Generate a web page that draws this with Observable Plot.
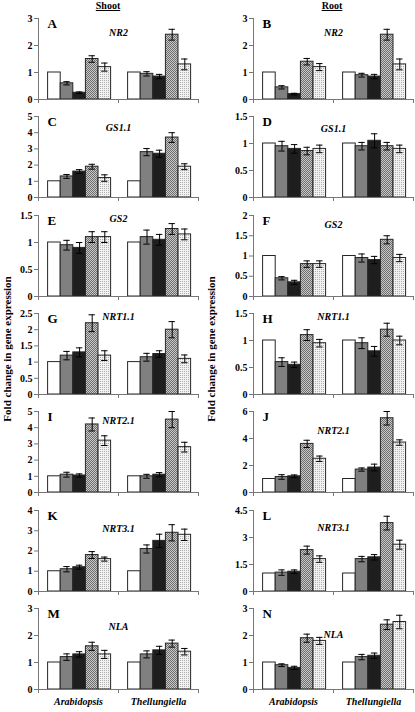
<!DOCTYPE html>
<html><head><meta charset="utf-8">
<script src="https://cdn.jsdelivr.net/npm/d3@7"></script>
<script src="https://cdn.jsdelivr.net/npm/@observablehq/plot@0.6"></script>
<style>
html,body{margin:0;padding:0;background:#fff}
body{width:415px;height:712px;position:relative;overflow:hidden;font-family:"Liberation Serif","Times New Roman",serif}
.panel{position:absolute}
.coltitle{position:absolute;top:0;font-weight:bold;font-size:10px;text-decoration:underline;transform:translateX(-50%);line-height:12px}
.ylab{position:absolute;font-weight:bold;font-size:11px;white-space:nowrap;transform:translate(-50%,-50%) rotate(-90deg)}
</style></head>
<body>
<svg width="0" height="0" style="position:absolute">
  <defs>
    <pattern id="hatch" patternUnits="userSpaceOnUse" width="2" height="2">
      <rect width="2" height="2" fill="#c8c8c8"/>
      <rect x="0" y="0" width="1" height="1" fill="#6e6e6e"/>
      <rect x="1" y="1" width="1" height="1" fill="#6e6e6e"/>
    </pattern>
    <pattern id="dots" patternUnits="userSpaceOnUse" width="2" height="2">
      <rect width="2" height="2" fill="#f2f2f2"/>
      <rect x="0" y="0" width="1" height="1" fill="#b0b0b0"/>
    </pattern>
  </defs>
</svg>
<script>
// ---- data ----
const columnTitles = ["Shoot", "Root"];
const yLabel = "Fold change in gene expression";
const groups = ["Arabidopsis", "Thellungiella"];
const treatments = ["t1", "t2", "t3", "t4", "t5"];
const panelLetters = ["A","B","C","D","E","F","G","H","I","J","K","L","M","N"];
const genes = ["NR2","NR2","GS1.1","GS1.1","GS2","GS2","NRT1.1","NRT1.1","NRT2.1","NRT2.1","NRT3.1","NRT3.1","NLA","NLA"];
const yTicks = [
  [0,1,2,3],[0,1,2,3],
  [0,1,2,3,4,5],[0,0.5,1,1.5],
  [0,0.5,1,1.5],[0,0.5,1,1.5,2],
  [0,0.5,1,1.5,2,2.5],[0,0.5,1,1.5],
  [0,1,2,3,4,5],[0,2,4,6],
  [0,1,2,3,4],[0,1.5,3,4.5],
  [0,1,2,3],[0,1,2,3]
];
const meansArabidopsis = [
  [1,0.6,0.25,1.5,1.2],[1,0.45,0.2,1.4,1.2],
  [1,1.3,1.6,1.9,1.2],[1,0.95,0.9,0.86,0.9],
  [1,0.95,0.9,1.1,1.1],[1,0.45,0.35,0.8,0.8],
  [1,1.2,1.3,2.2,1.2],[1,0.6,0.55,1.1,0.95],
  [1,1.1,1.05,4.2,3.2],[1,1.15,1.2,3.6,2.5],
  [1,1.1,1.2,1.8,1.6],[1,1.05,1.1,2.3,1.8],
  [1,1.2,1.3,1.6,1.3],[1,0.9,0.8,1.9,1.8]
];
const errArabidopsis = [
  [0,0.06,0.03,0.12,0.15],[0,0.06,0.03,0.12,0.13],
  [0,0.12,0.12,0.15,0.2],[0,0.09,0.08,0.07,0.07],
  [0,0.09,0.1,0.1,0.1],[0,0.04,0.05,0.08,0.08],
  [0,0.13,0.14,0.26,0.15],[0,0.08,0.05,0.1,0.07],
  [0,0.15,0.1,0.4,0.3],[0,0.17,0.1,0.27,0.2],
  [0,0.13,0.1,0.17,0.1],[0,0.15,0.1,0.22,0.18],
  [0,0.12,0.1,0.15,0.15],[0,0.05,0.06,0.15,0.13]
];
const meansThellungiella = [
  [1,0.95,0.85,2.4,1.3],[1,0.9,0.85,2.4,1.3],
  [1,2.8,2.7,3.7,1.9],[1,0.95,1.05,0.95,0.9],
  [1,1.1,1.05,1.25,1.15],[1,0.95,0.9,1.4,0.95],
  [1,1.15,1.25,2.0,1.1],[1,0.95,0.8,1.2,1.0],
  [1,1.0,1.1,4.5,2.8],[1,1.7,1.85,5.5,3.7],
  [1,2.1,2.5,2.9,2.8],[1,1.8,1.9,3.8,2.6],
  [1,1.3,1.45,1.7,1.4],[1,1.2,1.25,2.4,2.5]
];
const errThellungiella = [
  [0,0.08,0.08,0.2,0.2],[0,0.07,0.08,0.2,0.2],
  [0,0.22,0.22,0.3,0.18],[0,0.07,0.13,0.07,0.07],
  [0,0.13,0.1,0.1,0.1],[0,0.1,0.09,0.1,0.09],
  [0,0.12,0.1,0.25,0.12],[0,0.1,0.09,0.12,0.08],
  [0,0.12,0.13,0.5,0.3],[0,0.12,0.25,0.5,0.2],
  [0,0.2,0.33,0.4,0.28],[0,0.15,0.15,0.38,0.25],
  [0,0.13,0.15,0.13,0.12],[0,0.1,0.1,0.18,0.25]
];
const geneLabelOffset = [14,14,11,12,3,9,3,3,9,19,18,17,18,26];

// ---- styles / layout ----
const fills = ["#ffffff", "#808080", "#1e1e1e", "url(#hatch)", "url(#dots)"];
const serif = "'Liberation Serif','Times New Roman',serif";
const barPadLeft = 0.12, barWidth = 0.1575, capHalf = 0.04;
const colLeft = [0, 215];
const colWidth = [207, 200];
const rowTop0 = 8, rowPitch = 98.3;

const body = document.body;
columnTitles.forEach((t, c) => {
  const d = document.createElement("div");
  d.className = "coltitle";
  d.textContent = t;
  d.style.left = (c === 0 ? 108 : 332) + "px";
  body.appendChild(d);
  const y = document.createElement("div");
  y.className = "ylab";
  y.textContent = yLabel;
  y.style.left = (c === 0 ? 7 : 211) + "px";
  y.style.top = "349px";
  body.appendChild(y);
});

panelLetters.forEach((letter, p) => {
  const col = p % 2, row = Math.floor(p / 2);
  const ticks = yTicks[p];
  const yMax = ticks[ticks.length - 1];
  const rows = [];
  groups.forEach((g, gi) => {
    const means = gi === 0 ? meansArabidopsis[p] : meansThellungiella[p];
    const errs = gi === 0 ? errArabidopsis[p] : errThellungiella[p];
    treatments.forEach((t, ti) => {
      const x1 = gi + barPadLeft + ti * barWidth;
      rows.push({group: g, treatment: t, mean: means[ti], err: errs[ti],
                 x1, x2: x1 + barWidth, xc: x1 + barWidth / 2});
    });
  });
  const withErr = rows.filter(d => d.err > 0);
  const last = row === 6;
  const marks = [
    Plot.rectY(rows, {x1: "x1", x2: "x2", y: "mean", fill: "treatment", stroke: "#262626", strokeWidth: 1}),
    Plot.ruleX(withErr, {x: "xc", y1: d => d.mean - d.err, y2: d => d.mean + d.err, stroke: "#000", strokeWidth: 1}),
    Plot.ruleY(withErr, {x1: d => d.xc - capHalf, x2: d => d.xc + capHalf, y: d => d.mean + d.err, stroke: "#000", strokeWidth: 1}),
    Plot.ruleY(withErr, {x1: d => d.xc - capHalf, x2: d => d.xc + capHalf, y: d => d.mean - d.err, stroke: "#000", strokeWidth: 1}),
    Plot.ruleX([0], {stroke: "#777"}),
    Plot.ruleY([0], {stroke: "#777"}),
    Plot.axisX({ticks: [0, 1, 2], tickSize: 4, tickFormat: () => "", label: null, stroke: "#777"}),
    Plot.axisY({ticks, tickSize: 4, tickPadding: 2, tickFormat: d => String(d), label: null, fontWeight: "bold", fontSize: 10, fontFamily: serif, stroke: "#777", fill: "#000"}),
    Plot.text([letter], {frameAnchor: "top-left", dx: 9, dy: 0, fontWeight: "bold", fontSize: 13, fontFamily: serif, lineAnchor: "top"}),
    Plot.text([genes[p]], {x: () => 1, frameAnchor: "top", dy: geneLabelOffset[p], fontWeight: "bold", fontStyle: "italic", fontSize: 10, fontFamily: serif, lineAnchor: "middle"})
  ];
  if (last) {
    marks.push(Plot.text(groups, {x: (d, i) => i + 0.5, y: () => 0, dy: 12, lineAnchor: "middle", fontWeight: "bold", fontStyle: "italic", fontSize: 10, fontFamily: serif}));
  }
  const chart = Plot.plot({
    width: colWidth[col],
    height: 99 + (last ? 16 : 0),
    marginLeft: 38,
    marginRight: colWidth[col] - 38 - 160,
    marginTop: 10,
    marginBottom: 8 + (last ? 16 : 0),
    x: {domain: [0, 2], axis: null},
    y: {domain: [0, yMax], axis: null},
    color: {type: "ordinal", domain: treatments, range: fills},
    style: {background: "transparent", overflow: "visible", fontFamily: serif, color: "#000"},
    marks
  });
  chart.classList.add("panel");
  chart.style.left = colLeft[col] + "px";
  chart.style.top = (rowTop0 + row * rowPitch) + "px";
  body.appendChild(chart);
});
</script>
</body></html>
